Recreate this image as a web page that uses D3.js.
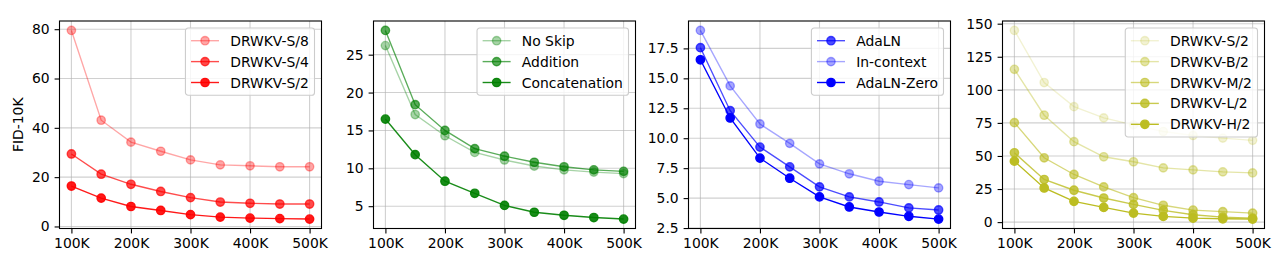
<!DOCTYPE html>
<html>
<head>
<meta charset="utf-8">
<script src="https://cdn.jsdelivr.net/npm/d3@7"></script>
<style>
  body { margin: 0; background: #fff; }
  text { font-family: "DejaVu Sans", sans-serif; }
</style>
</head>
<body>
<svg id="fig"></svg>
<script>
"use strict";

// training steps (K)
let steps = [100, 150, 200, 250, 300, 350, 400, 450, 500];
let xTicks = [100, 200, 300, 400, 500];

// panel 1: patch size
let p1Names = ['DRWKV-S/8', 'DRWKV-S/4', 'DRWKV-S/2'];
let p1S8 = [79.5, 43.1, 34.2, 30.5, 27.0, 25.0, 24.6, 24.2, 24.2];
let p1S4 = [29.4, 21.2, 17.1, 14.2, 11.7, 9.9, 9.4, 9.1, 9.1];
let p1S2 = [16.4, 11.5, 8.1, 6.5, 4.8, 3.8, 3.4, 3.2, 3.0];
let p1Ticks = [0, 20, 40, 60, 80];

// panel 2: skip connection
let p2Names = ['No Skip', 'Addition', 'Concatenation'];
let p2NoSkip = [26.2, 17.1, 14.3, 12.1, 11.1, 10.3, 9.8, 9.5, 9.3];
let p2Add = [28.2, 18.4, 15.0, 12.6, 11.6, 10.8, 10.2, 9.8, 9.6];
let p2Concat = [16.5, 11.8, 8.3, 6.7, 5.1, 4.2, 3.8, 3.5, 3.3];
let p2Ticks = [5, 10, 15, 20, 25];

// panel 3: conditioning
let p3Names = ['AdaLN', 'In-context', 'AdaLN-Zero'];
let p3AdaLN = [17.56, 12.3, 9.26, 7.61, 5.94, 5.1, 4.68, 4.18, 4.01];
let p3InCtx = [19.0, 14.37, 11.19, 9.57, 7.86, 7.03, 6.41, 6.13, 5.85];
let p3Zero = [16.55, 11.69, 8.34, 6.66, 5.10, 4.26, 3.84, 3.48, 3.25];
let p3Ticks = [2.5, 5.0, 7.5, 10.0, 12.5, 15.0, 17.5];

// panel 4: model size
let p4Names = ['DRWKV-S/2', 'DRWKV-B/2', 'DRWKV-M/2', 'DRWKV-L/2', 'DRWKV-H/2'];
let p4S = [144.9, 105.5, 87.3, 78.8, 73.5, 68.5, 65.5, 63.5, 61.8];
let p4B = [115.5, 80.8, 60.8, 49.4, 45.6, 41.0, 39.5, 38.0, 37.2];
let p4M = [75.2, 48.6, 36.0, 26.6, 18.5, 12.7, 9.1, 7.9, 6.8];
let p4L = [52.4, 32.2, 24.1, 18.2, 13.4, 8.9, 5.6, 3.8, 3.0];
let p4H = [46.1, 25.8, 15.7, 11.1, 6.8, 4.3, 3.0, 2.5, 2.3];
let p4Ticks = [0, 25, 50, 75, 100, 125, 150];

let panels = [
  { left: 59.5, names: p1Names, series: [p1S8, p1S4, p1S2], color: '#ff0000',
    alphas: [0.35, 0.7, 0.9], ticks: p1Ticks, fmt: d3.format('d'), ylabel: 'FID-10K' },
  { left: 373.5, names: p2Names, series: [p2NoSkip, p2Add, p2Concat], color: '#008000',
    alphas: [0.35, 0.65, 0.9], ticks: p2Ticks, fmt: d3.format('d') },
  { left: 688.5, names: p3Names, series: [p3AdaLN, p3InCtx, p3Zero], color: '#0000ff',
    alphas: [0.7, 0.35, 1.0], ticks: p3Ticks, fmt: d3.format('.1f') },
  { left: 1002.5, names: p4Names, series: [p4S, p4B, p4M, p4L, p4H], color: '#bcbd22',
    alphas: [0.2, 0.4, 0.6, 0.8, 1.0], ticks: p4Ticks, fmt: d3.format('d') },
];

let W = 1282, H = 256;
let plotTop = 21, pw = 262, ph = 207.5;
let fs = 13.9;

let svg = d3.select('#fig').attr('width', W).attr('height', H);

let padded = (lo, hi) => [lo - (hi - lo) * 0.05, hi + (hi - lo) * 0.05];

panels.forEach((p) => {
  let g = svg.append('g').attr('transform', `translate(${p.left},${plotTop})`);

  let x = d3.scaleLinear().domain(padded(100, 500)).range([0, pw]);
  let all = p.series.flat();
  let y = d3.scaleLinear().domain(padded(d3.min(all), d3.max(all))).range([ph, 0]);

  // grid
  g.append('g').selectAll('line').data(xTicks).enter().append('line')
    .attr('x1', (d) => x(d)).attr('x2', (d) => x(d)).attr('y1', 0).attr('y2', ph)
    .attr('stroke', '#b0b0b0').attr('stroke-opacity', 0.6).attr('stroke-width', 1.1);
  g.append('g').selectAll('line').data(p.ticks).enter().append('line')
    .attr('y1', (d) => y(d)).attr('y2', (d) => y(d)).attr('x1', 0).attr('x2', pw)
    .attr('stroke', '#b0b0b0').attr('stroke-opacity', 0.6).attr('stroke-width', 1.1);

  // series
  let line = d3.line().x((d, i) => x(steps[i])).y((d) => y(d));
  p.series.forEach((vals, k) => {
    let a = p.alphas[k];
    g.append('path').datum(vals).attr('d', line)
      .attr('fill', 'none').attr('stroke', p.color)
      .attr('stroke-opacity', a).attr('stroke-width', 1.39);
    g.append('g').selectAll('circle').data(vals).enter().append('circle')
      .attr('cx', (d, i) => x(steps[i])).attr('cy', (d) => y(d)).attr('r', 4.17)
      .attr('fill', p.color).attr('fill-opacity', a)
      .attr('stroke', p.color).attr('stroke-opacity', a).attr('stroke-width', 1.39);
  });

  // axes
  let xa = g.append('g').attr('transform', `translate(0,${ph})`)
    .call(d3.axisBottom(x).tickValues(xTicks).tickFormat((d) => d + 'K')
      .tickSize(4.9).tickPadding(4.9).tickSizeOuter(0));
  let ya = g.append('g')
    .call(d3.axisLeft(y).tickValues(p.ticks).tickFormat(p.fmt)
      .tickSize(4.9).tickPadding(4.9).tickSizeOuter(0));
  [xa, ya].forEach((a) => {
    a.select('.domain').remove();
    a.selectAll('line').attr('stroke', '#000').attr('stroke-width', 1.1);
    a.selectAll('text').attr('font-size', fs).attr('fill', '#000')
      .attr('font-family', '"DejaVu Sans", sans-serif');
  });

  g.append('rect').attr('width', pw).attr('height', ph)
    .attr('fill', 'none').attr('stroke', '#000').attr('stroke-width', 1.1);

  if (p.ylabel) {
    g.append('text').attr('transform', `translate(${-41.5},${ph / 2}) rotate(-90)`)
      .attr('text-anchor', 'middle').attr('dominant-baseline', 'central')
      .attr('font-size', fs).text(p.ylabel);
  }

  // legend
  let lg = g.append('g');
  let rowH = 20.9, pad = 12.7;
  let box = lg.append('rect');
  let labels = lg.selectAll('text').data(p.names).enter().append('text')
    .attr('x', 44.8).attr('y', (d, i) => pad + i * rowH)
    .attr('dominant-baseline', 'central').attr('font-size', fs).text((d) => d);
  let tw = d3.max(labels.nodes(), (n) => n.getComputedTextLength());
  let bw = 44.8 + tw + 5.6, bh = pad * 2 + (p.names.length - 1) * rowH;
  box.attr('width', bw).attr('height', bh).attr('rx', 2.8)
    .attr('fill', '#fff').attr('fill-opacity', 0.8)
    .attr('stroke', '#cccccc').attr('stroke-width', 1.1);
  p.names.forEach((n, i) => {
    let cy = pad + i * rowH, a = p.alphas[i];
    lg.append('line').attr('x1', 5.6).attr('x2', 33.6).attr('y1', cy).attr('y2', cy)
      .attr('stroke', p.color).attr('stroke-opacity', a).attr('stroke-width', 1.39);
    lg.append('circle').attr('cx', 19.6).attr('cy', cy).attr('r', 4.17)
      .attr('fill', p.color).attr('fill-opacity', a)
      .attr('stroke', p.color).attr('stroke-opacity', a).attr('stroke-width', 1.39);
  });
  lg.attr('transform', `translate(${pw - 7 - bw},7)`);
});
</script>
</body>
</html>
